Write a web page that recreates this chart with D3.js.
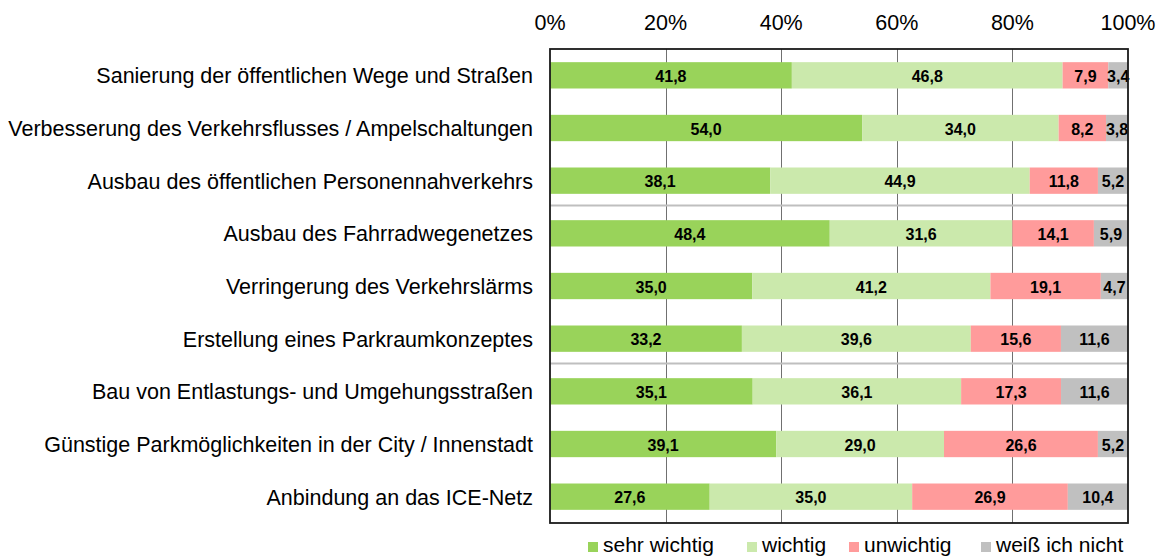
<!DOCTYPE html>
<html>
<head>
<meta charset="utf-8">
<script src="https://cdn.jsdelivr.net/npm/d3@7"></script>
<style>
  body { margin: 0; background: #fff; }
  text { font-family: "Liberation Sans", Arial, sans-serif; fill: #000; }
</style>
</head>
<body>
<svg id="chart" width="1161" height="557"></svg>
<script>
// DATA
const categories = [
  "Sanierung der öffentlichen Wege und Straßen",
  "Verbesserung des Verkehrsflusses / Ampelschaltungen",
  "Ausbau des öffentlichen Personennahverkehrs",
  "Ausbau des Fahrradwegenetzes",
  "Verringerung des Verkehrslärms",
  "Erstellung eines Parkraumkonzeptes",
  "Bau von Entlastungs- und Umgehungsstraßen",
  "Günstige Parkmöglichkeiten in der City / Innenstadt",
  "Anbindung an das ICE-Netz"
];
const seriesNames = ["sehr wichtig", "wichtig", "unwichtig", "weiß ich nicht"];
const sehrWichtig  = [41.8, 54.0, 38.1, 48.4, 35.0, 33.2, 35.1, 39.1, 27.6];
const wichtig      = [46.8, 34.0, 44.9, 31.6, 41.2, 39.6, 36.1, 29.0, 35.0];
const unwichtig    = [7.9, 8.2, 11.8, 14.1, 19.1, 15.6, 17.3, 26.6, 26.9];
const weissNicht   = [3.4, 3.8, 5.2, 5.9, 4.7, 11.6, 11.6, 5.2, 10.4];
const xTicks = [0, 0.2, 0.4, 0.6, 0.8, 1];
const separatorsAfter = [3, 6];

const _color = ["#99d35a", "#cbe9ac", "#ff9b9b", "#c0c0c0"];
const _plot = {left: 550, right: 1128, top: 49, bottom: 523};

let rows = categories.map((c, i) => ({
  cat: c,
  "sehr wichtig": sehrWichtig[i],
  "wichtig": wichtig[i],
  "unwichtig": unwichtig[i],
  "weiß ich nicht": weissNicht[i]
}));

let stacked = d3.stack().keys(seriesNames).offset(d3.stackOffsetExpand)(rows);

let x = d3.scaleLinear().domain([0, 1]).range([_plot.left, _plot.right]);
let y = d3.scaleBand().domain(categories).range([_plot.top, _plot.bottom]).paddingInner(0.5).paddingOuter(0.25);
let yRow = d3.scaleBand().domain(categories).range([_plot.top, _plot.bottom]);

let svg = d3.select('#chart');

// gridlines
svg.append('g')
    .selectAll('line')
    .data(xTicks.slice(1, -1))
    .enter()
  .append('line')
    .attr('x1', d => Math.round(x(d)) + 0.5)
    .attr('x2', d => Math.round(x(d)) + 0.5)
    .attr('y1', _plot.top)
    .attr('y2', _plot.bottom)
    .attr('stroke', '#707070')
    .attr('stroke-width', 1);

// group separators
svg.append('g')
    .selectAll('line')
    .data(separatorsAfter)
    .enter()
  .append('line')
    .attr('x1', _plot.left)
    .attr('x2', _plot.right)
    .attr('y1', d => yRow(categories[d]) - 1.5)
    .attr('y2', d => yRow(categories[d]) - 1.5)
    .attr('stroke', '#bfbfbf')
    .attr('stroke-width', 2);

// bars
let layers = svg.append('g')
    .selectAll('g')
    .data(stacked)
    .enter()
  .append('g')
    .attr('fill', (d, i) => _color[i]);
layers.selectAll('rect')
    .data(d => d)
    .enter()
  .append('rect')
    .attr('x', d => x(d[0]))
    .attr('y', d => y(d.data.cat))
    .attr('width', d => x(d[1]) - x(d[0]))
    .attr('height', y.bandwidth());

// value labels
let labels = svg.append('g');
stacked.forEach(layer => {
  labels.selectAll(null)
      .data(layer)
      .enter()
    .append('text')
      .attr('x', d => (x(d[0]) + x(d[1])) / 2)
      .attr('y', d => y(d.data.cat) + y.bandwidth() / 2 + 1)
      .attr('text-anchor', 'middle')
      .attr('dominant-baseline', 'central')
      .attr('font-size', '16px')
      .attr('font-weight', 'bold')
      .text(d => d3.format('.1f')(d.data[layer.key]).replace('.', ','));
});

// frame
svg.append('rect')
    .attr('x', _plot.left)
    .attr('y', _plot.top)
    .attr('width', _plot.right - _plot.left)
    .attr('height', _plot.bottom - _plot.top)
    .attr('fill', 'none')
    .attr('stroke', '#1a1a1a')
    .attr('stroke-width', 1.8);

// top axis labels
svg.append('g')
    .selectAll('text')
    .data(xTicks)
    .enter()
  .append('text')
    .attr('x', d => x(d))
    .attr('y', 30)
    .attr('text-anchor', 'middle')
    .attr('font-size', '21.5px')
    .text(d => d3.format('.0%')(d));

// category labels
svg.append('g')
    .selectAll('text')
    .data(categories)
    .enter()
  .append('text')
    .attr('x', 533)
    .attr('y', d => y(d) + y.bandwidth() / 2 + 1)
    .attr('text-anchor', 'end')
    .attr('dominant-baseline', 'central')
    .attr('font-size', '21.5px')
    .text(d => d);

// legend
const legendX = [588, 747, 849, 981];
let legend = svg.append('g')
    .selectAll('g')
    .data(seriesNames)
    .enter()
  .append('g')
    .attr('transform', (d, i) => `translate(${legendX[i]}, 547)`);
legend.append('rect')
    .attr('x', 0)
    .attr('y', -5)
    .attr('width', 10)
    .attr('height', 10)
    .attr('fill', (d, i) => _color[i]);
legend.append('text')
    .attr('x', 15)
    .attr('y', 5)
    .attr('font-size', '21px')
    .text(d => d);
</script>
</body>
</html>
